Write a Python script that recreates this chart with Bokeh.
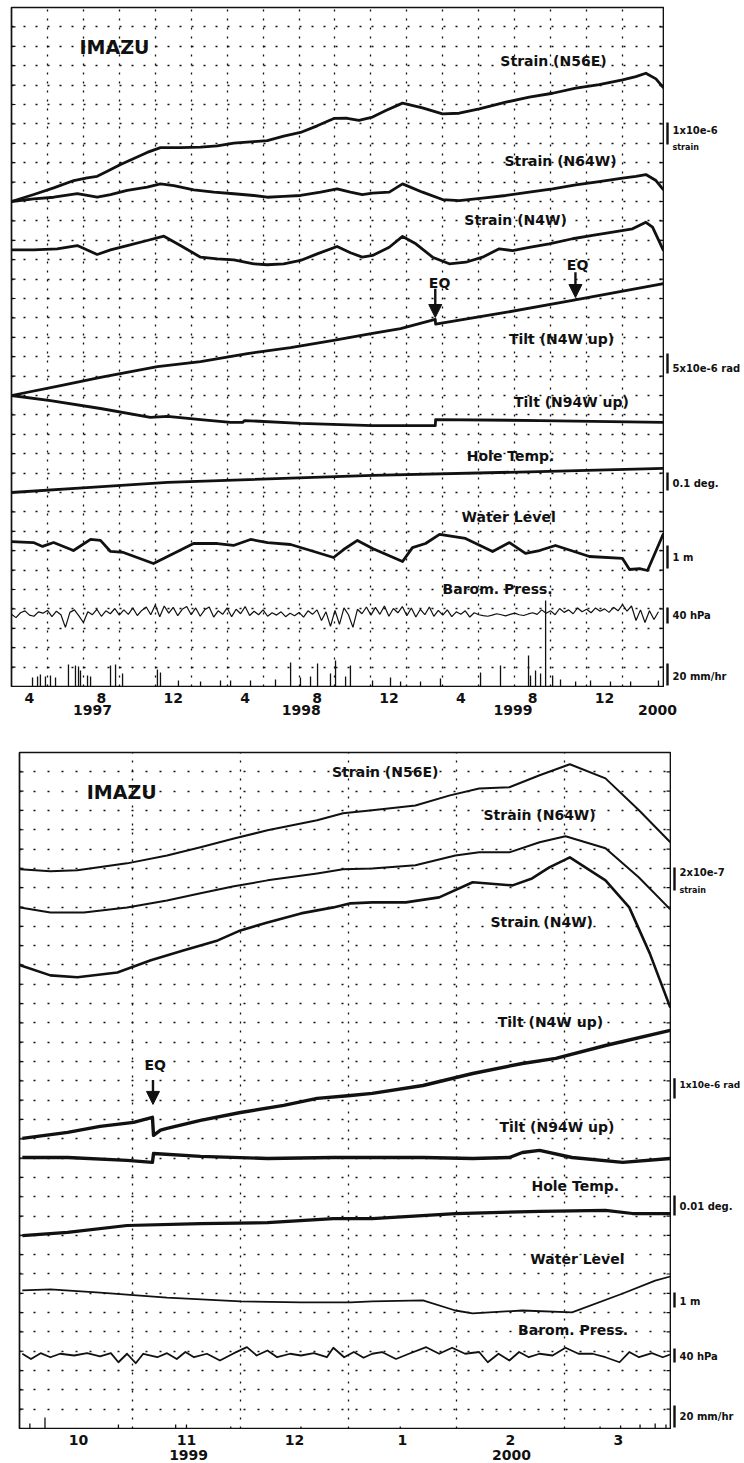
import math
from bokeh.plotting import figure
from bokeh.layouts import row
from bokeh.models import FixedTicker, LinearAxis, Arrow, NormalHead, Range1d, Grid
from bokeh.core.properties import value
from bokeh.embed import file_html
from bokeh.resources import INLINE

FONT = "DejaVu Sans"
INK = "#111111"

# ===================== DATA =====================
# Upper panel: x = months since 1997-01-01, y = chart divisions (35 over the full height)
up_n56e_t = [2.00, 3.24, 4.35, 5.47, 6.21, 6.77, 7.33, 8.07, 8.81, 9.55, 10.29, 11.40, 12.52, 13.45, 14.37, 15.48, 16.23, 17.15, 18.08, 19.01, 19.94, 20.68, 21.33, 22.09,
             22.83, 23.76, 24.87, 25.98, 26.91, 28.03, 29.51, 30.81, 32.11, 33.40, 34.70, 36.00, 36.74, 37.30, 37.86, 38.28]
up_n56e = [25.00, 25.36, 25.70, 26.08, 26.22, 26.30, 26.56, 26.91, 27.22, 27.53, 27.78, 27.78, 27.80, 27.87, 28.01, 28.09, 28.14, 28.37, 28.56, 28.90, 29.28, 29.29, 29.18, 29.35,
           29.69, 30.07, 29.83, 29.52, 29.55, 29.78, 30.12, 30.38, 30.58, 30.84, 31.03, 31.27, 31.44, 31.61, 31.32, 30.86]

up_n64w_t = [2.00, 3.24, 4.35, 5.66, 6.77, 7.51, 8.44, 9.55, 10.29, 11.03, 12.14, 13.26, 14.37, 15.48, 16.23, 17.15, 18.08, 19.20, 20.12, 20.86, 21.52, 22.09,
             23.02, 23.76, 24.87, 25.98, 26.91, 28.21, 29.51, 30.81, 32.11, 33.40, 34.70, 36.00, 36.74, 37.30, 37.86, 38.28]
up_n64w = [25.00, 25.14, 25.22, 25.40, 25.22, 25.36, 25.57, 25.74, 25.91, 25.82, 25.60, 25.48, 25.40, 25.31, 25.22, 25.26, 25.31, 25.48, 25.65, 25.48, 25.35, 25.43,
           25.48, 25.91, 25.48, 25.10, 25.05, 25.17, 25.31, 25.48, 25.65, 25.86, 26.03, 26.20, 26.29, 26.39, 26.08, 25.60]

up_n4w_t = [2.00, 3.24, 4.54, 5.66, 6.77, 7.51, 8.44, 9.55, 10.48, 11.40, 12.52, 13.45, 14.37, 15.48, 16.23, 17.15, 18.08, 19.01, 20.12, 20.86, 21.52, 22.09,
            23.02, 23.76, 24.50, 25.43, 26.36, 27.28, 28.21, 29.14, 29.88, 30.81, 31.92, 33.22, 34.33, 35.45, 36.56, 37.30, 37.67, 38.28]
up_n4w = [22.51, 22.51, 22.56, 22.73, 22.27, 22.51, 22.73, 22.99, 23.21, 22.73, 22.13, 22.04, 21.99, 21.79, 21.74, 21.79, 21.96, 22.30, 22.68, 22.36, 22.13, 22.22,
          22.64, 23.20, 22.82, 22.13, 21.79, 21.87, 22.13, 22.56, 22.47, 22.64, 22.82, 23.08, 23.25, 23.42, 23.59, 23.93, 23.68, 22.47]

up_tilt_n4w_t = [2.00, 4.73, 6.95, 10.12, 12.52, 15.13, 17.53, 19.92, 22.09, 23.65, 25.58, 25.60, 29.49, 33.22, 38.28]
up_tilt_n4w = [15.00, 15.51, 15.93, 16.49, 16.75, 17.16, 17.47, 17.84, 18.20, 18.45, 18.92, 18.68, 19.28, 19.90, 20.77]

up_tilt_n94w_t = [2.00, 4.17, 6.95, 9.73, 10.68, 12.52, 14.19, 14.86, 14.97, 18.08, 22.09, 25.58, 25.60, 31.38, 38.28]
up_tilt_n94w = [15.00, 14.74, 14.33, 13.87, 13.92, 13.76, 13.61, 13.61, 13.71, 13.56, 13.45, 13.45, 13.76, 13.71, 13.61]

up_temp_t = [2.00, 6.40, 10.68, 22.09, 31.38, 38.28]
up_temp = [10.00, 10.26, 10.52, 10.88, 11.08, 11.24]

up_water_t = [2.00, 3.22, 3.73, 4.34, 5.45, 6.40, 6.95, 7.51, 8.23, 9.90, 11.02, 12.13, 13.46, 14.35, 15.30, 16.25, 17.53, 18.64, 19.92, 20.48, 21.25, 22.09, 23.76, 24.31, 25.04, 25.82, 27.26, 28.77, 29.71, 30.60, 31.38, 32.27, 34.16, 36.00, 36.39, 36.95, 37.39, 38.28]
up_water = [7.47, 7.42, 7.22, 7.42, 7.01, 7.58, 7.53, 6.96, 6.91, 6.34, 6.86, 7.37, 7.37, 7.27, 7.58, 7.42, 7.32, 7.01, 6.65, 7.06, 7.53, 7.11, 6.44, 7.16, 7.37, 7.84, 7.63, 6.96, 7.42, 6.86, 7.01, 7.27, 6.70, 6.60, 6.03, 6.08, 5.98, 7.89]

# barometric pressure, read every quarter month starting at month 2.0
up_baro = [3.72, 3.55, 3.80, 3.90, 3.68, 3.62, 3.85, 3.78,
           3.92, 3.60, 3.88, 3.70, 3.05, 3.82, 3.95, 3.64,
           3.30, 3.85, 3.70, 3.98, 3.62, 3.90, 3.75, 4.02,
           3.68, 3.95, 3.72, 4.05, 3.66, 3.92, 4.10, 3.70,
           4.20, 3.60, 4.15, 3.78, 4.08, 3.65, 3.98, 4.12,
           3.70, 4.05, 3.62, 3.95, 4.10, 3.58, 3.90, 3.72,
           4.05, 3.60, 3.98, 3.75, 4.12, 3.66, 3.88, 3.70,
           3.95, 3.62, 3.80, 3.68, 3.85, 3.60, 3.78, 3.65,
           3.82, 3.58, 3.90, 3.72, 3.95, 3.40, 3.85, 3.10,
           3.92, 3.20, 4.05, 3.70, 3.05, 3.98, 3.75, 4.10,
           3.68, 4.08, 3.72, 4.15, 3.62, 4.02, 3.80, 4.12,
           3.65, 4.05, 3.58, 3.98, 3.70, 4.10, 3.62, 3.92,
           3.68, 3.95, 3.60, 3.85, 3.72, 3.90, 3.58, 3.80,
           3.70, 3.65, 3.62, 3.68, 3.75, 3.70, 3.64, 3.72,
           3.78, 3.70, 3.66, 3.74, 3.80, 3.72, 3.95, 3.78,
           3.90, 3.70, 4.02, 3.82, 3.95, 3.75, 4.05, 3.85,
           3.98, 3.80, 4.05, 3.88, 4.00, 3.82, 4.08, 3.90,
           4.22, 3.88, 4.15, 3.40, 3.95, 3.30, 3.90, 3.45,
           3.85]
up_baro_t = [2.0 + 0.25 * i for i in range(len(up_baro))]

up_rain_t = [3.17, 3.45, 3.61, 3.89, 4.17, 4.45, 5.17, 5.56, 5.73, 5.84, 6.23, 6.40, 7.51, 7.79, 8.18, 10.12, 10.29, 11.29, 12.52, 13.63, 14.19, 15.30, 16.69, 17.53, 18.08, 18.64, 19.03, 19.75, 20.03, 20.59, 20.86, 22.09, 23.09, 23.65, 24.76, 25.87, 28.10, 29.21, 30.77, 30.88, 31.16, 31.44, 31.72, 32.11, 32.55, 33.39, 34.22, 35.33, 36.45, 38.00]
up_rain = [0.46, 0.52, 0.62, 0.52, 0.57, 0.46, 1.13, 1.08, 1.03, 0.82, 0.57, 0.52, 1.08, 1.13, 0.67, 0.88, 0.72, 0.31, 0.26, 0.31, 0.31, 0.31, 0.36, 1.24, 0.46, 0.52, 1.19, 0.67, 1.34, 0.52, 1.08, 0.31, 0.46, 0.26, 0.26, 0.41, 0.72, 1.08, 1.60, 0.57, 0.82, 0.67, 4.43, 0.57, 0.36, 0.26, 0.31, 0.26, 0.26, 0.31]

up_month_ticks = [3, 7, 11, 15, 19, 23, 27, 31, 35]
up_month_names = ["4", "8", "12", "4", "8", "12", "4", "8", "12"]
up_year_ticks = [6.51, 18.12, 29.91, 37.95]
up_year_names = ["1997", "1998", "1999", "2000"]
up_grid_months = [4, 6, 8, 10, 12, 14, 16, 18, 20, 22, 24, 26, 28, 30, 32, 34, 36]

# Lower panel: x = months since 1999-10-01, y = chart divisions
lo_n56e_t = [-0.04, 0.24, 0.49, 0.95, 1.32, 1.63, 1.94, 2.25, 2.71, 2.95, 3.22, 3.62, 3.94, 4.21, 4.49, 4.77, 5.05, 5.38, 5.69, 5.98]
lo_n56e = [28.95, 28.85, 28.90, 29.26, 29.67, 30.09, 30.55, 30.97, 31.49, 31.85, 32.01, 32.26, 32.78, 33.14, 33.20, 33.82, 34.39, 33.66, 32.01, 30.35]

lo_n64w_t = [-0.04, 0.24, 0.55, 0.95, 1.32, 1.63, 1.94, 2.25, 2.71, 2.95, 3.22, 3.62, 3.99, 4.21, 4.49, 4.77, 5.01, 5.38, 5.69, 5.98]
lo_n64w = [26.98, 26.72, 26.72, 26.98, 27.34, 27.71, 28.07, 28.38, 28.74, 28.95, 29.00, 29.16, 29.67, 29.83, 29.83, 30.35, 30.66, 30.04, 28.53, 26.88]

lo_n4w_t = [-0.04, 0.24, 0.49, 0.86, 1.17, 1.47, 1.79, 2.00, 2.25, 2.56, 2.86, 3.02, 3.22, 3.53, 3.84, 4.15, 4.52, 4.70, 4.86, 5.05, 5.38, 5.60, 5.79, 5.98]
lo_n4w = [23.98, 23.46, 23.36, 23.61, 24.24, 24.75, 25.27, 25.79, 26.20, 26.67, 26.98, 27.19, 27.24, 27.24, 27.50, 28.28, 28.12, 28.48, 29.05, 29.57, 28.38, 26.98, 24.60, 21.80]

lo_tilt_n4w_t = [-0.02, 0.40, 0.70, 1.01, 1.185, 1.195, 1.26, 1.32, 1.63, 2.00, 2.40, 2.71, 3.02, 3.22, 3.69, 4.15, 4.61, 4.92, 5.38, 5.98]
lo_tilt_n4w = [15.02, 15.33, 15.64, 15.85, 16.11, 15.18, 15.45, 15.54, 15.95, 16.36, 16.73, 17.09, 17.24, 17.35, 17.76, 18.38, 18.90, 19.16, 19.83, 20.61]

lo_tilt_n94w_t = [-0.02, 0.40, 0.95, 1.185, 1.195, 1.63, 2.25, 2.86, 3.22, 3.69, 4.15, 4.49, 4.61, 4.77, 5.07, 5.54, 5.98]
lo_tilt_n94w = [14.03, 14.03, 13.88, 13.78, 14.24, 14.09, 13.98, 14.03, 14.03, 14.03, 13.98, 14.03, 14.29, 14.40, 14.03, 13.78, 13.98]

lo_temp_t = [-0.02, 0.40, 0.95, 1.63, 2.25, 2.86, 3.22, 3.99, 4.77, 5.38, 5.63, 5.98]
lo_temp = [9.99, 10.15, 10.51, 10.61, 10.66, 10.87, 10.87, 11.13, 11.24, 11.29, 11.13, 11.13]

lo_water_t = [-0.02, 0.24, 0.70, 1.32, 2.00, 2.56, 3.02, 3.22, 3.69, 3.99, 4.15, 4.61, 5.07, 5.54, 5.84, 5.98]
lo_water = [7.15, 7.20, 7.04, 6.78, 6.58, 6.53, 6.53, 6.58, 6.63, 6.11, 5.96, 6.11, 6.01, 6.99, 7.66, 7.87]

lo_baro_t = [-0.02, 0.06, 0.15, 0.24, 0.33, 0.46, 0.58, 0.70, 0.80, 0.87, 0.95, 1.03, 1.10, 1.23, 1.32, 1.41, 1.49, 1.57, 1.69, 1.81, 1.94, 2.06, 2.15, 2.25, 2.34, 2.46, 2.56, 2.68, 2.80, 2.86, 2.96, 3.05, 3.14,
             3.22, 3.31, 3.44, 3.56, 3.72, 3.84, 3.96, 4.08, 4.21, 4.29, 4.39, 4.49, 4.58, 4.67, 4.77, 4.89, 5.01, 5.13, 5.26, 5.38, 5.51, 5.60, 5.69, 5.81, 5.91, 5.98]
lo_baro = [3.87, 3.60, 3.90, 3.69, 3.87, 3.78, 3.90, 3.73, 3.90, 3.43, 3.87, 3.38, 3.87, 3.69, 3.90, 3.60, 3.96, 3.69, 3.87, 3.52, 3.90, 4.21, 3.78, 4.04, 3.69, 3.87, 3.78, 3.90, 3.69, 4.18, 3.69, 3.96, 3.66,
           3.87, 3.96, 3.60, 3.87, 4.21, 3.87, 4.18, 3.87, 3.96, 3.43, 3.87, 3.52, 3.96, 3.69, 3.87, 3.78, 4.18, 3.87, 3.87, 3.69, 3.43, 3.96, 3.69, 3.90, 3.69, 3.83]

lo_rain_t = [0.05, 0.19, 0.87, 1.40, 1.50, 1.91, 2.56, 3.48, 5.33, 5.52, 5.70, 5.84, 5.94]
lo_rain = [0.26, 0.57, 0.21, 0.21, 0.21, 0.10, 0.10, 0.10, 0.10, 0.16, 0.21, 0.26, 0.21]

lo_month_ticks = [0.5, 1.5, 2.5, 3.5, 4.5, 5.5]
lo_month_names = ["10", "11", "12", "1", "2", "3"]
lo_year_ticks = [1.52, 4.51]
lo_year_names = ["1999", "2000"]
lo_grid_months = [1, 2, 3, 4, 5]

series_names = ["Strain (N56E)", "Strain (N64W)", "Strain (N4W)", "Tilt (N4W up)",
                "Tilt (N94W up)", "Hole Temp.", "Water Level", "Barom. Press."]
up_scale_names = ["1x10e-6", "strain", "5x10e-6 rad", "0.1 deg.", "1 m", "40 hPa", "20 mm/hr"]
lo_scale_names = ["2x10e-7", "strain", "1x10e-6 rad", "0.01 deg.", "1 m", "40 hPa", "20 mm/hr"]

# ===================== LAYOUT (positions, sizes) =====================
up_label_x = [32.16, 32.55, 30.05, 32.61, 33.16, 29.77, 29.66, 29.05]
up_label_y = [32.22, 27.11, 24.07, 17.89, 14.69, 11.86, 8.76, 5.05]
lo_label_x = [3.34, 4.77, 4.79, 4.87, 4.93, 5.10, 5.12, 5.08]
lo_label_y = [33.97, 31.75, 26.20, 21.03, 15.59, 12.58, 8.80, 5.08]

up_scale_y = [28.66, 27.78, 16.39, 10.46, 6.65, 3.66, 0.52]
up_scale_size = ["10px", "8px", "10px", "10px", "10px", "10px", "10px"]
up_bar_y0 = [29.07, 17.16, 11.03, 7.27, 4.07, 1.19]
up_bar_y1 = [27.94, 16.13, 10.10, 6.08, 3.25, 0.05]
lo_scale_y = [28.79, 27.86, 17.76, 11.50, 6.58, 3.73, 0.62]
lo_scale_size = ["10px", "8px", "9px", "10px", "10px", "10px", "10px"]
lo_bar_y0 = [29.05, 18.13, 12.07, 7.04, 4.14, 1.19]
lo_bar_y1 = [27.86, 17.09, 11.03, 6.27, 3.42, 0.05]

ROWS = list(range(1, 35))


def clear_grids(p):
    p.center = [r for r in p.center if not isinstance(r, Grid)]


def build_panel(xr, width, height, left, top, grid_months, row_dash, col_dash):
    p = figure(width=width, height=height, x_range=Range1d(*xr), y_range=Range1d(0, 35),
               x_axis_location=None, y_axis_location=None,
               output_backend="svg", toolbar_location=None,
               min_border_left=left, min_border_right=1, min_border_top=top, min_border_bottom=1,
               background_fill_color="white", border_fill_color="white",
               outline_line_color=INK, outline_line_width=1.7)
    clear_grids(p)
    p.add_layout(Grid(dimension=0, ticker=FixedTicker(ticks=grid_months), grid_line_color=INK,
                      grid_line_dash=col_dash, grid_line_width=1.3))
    p.add_layout(Grid(dimension=1, ticker=FixedTicker(ticks=ROWS), grid_line_color=INK,
                      grid_line_dash=row_dash, grid_line_width=1.4))
    # small inward ticks on the left and right borders at every row
    p.ray(x=[xr[0]] * len(ROWS), y=ROWS, length=4, length_units="screen", angle=0,
          line_color=INK, line_width=1.2)
    p.ray(x=[xr[1]] * len(ROWS), y=ROWS, length=4, length_units="screen", angle=math.pi,
          line_color=INK, line_width=1.2)
    return p


def build_side(x0, width, height, top, y_range, names, ys, sizes, xs_text, bar_x, bar_y0, bar_y1):
    s = figure(width=width, height=height, x_range=Range1d(x0, x0 + width), y_range=y_range,
               x_axis_location=None, y_axis_location=None,
               output_backend="svg", toolbar_location=None,
               min_border_left=0, min_border_right=0, min_border_top=top, min_border_bottom=1,
               background_fill_color="white", border_fill_color="white", outline_line_color=None)
    clear_grids(s)
    s.text(x=[xs_text] * len(names), y=ys, text=names, text_font=value(FONT),
           text_font_style="bold", text_font_size=sizes,
           text_align="left", text_baseline="middle", text_color=INK)
    s.segment(x0=[bar_x] * len(bar_y0), y0=bar_y0, x1=[bar_x] * len(bar_y0), y1=bar_y1,
              line_color=INK, line_width=2.4)
    return s


def build_strip(x_range, width, height, left, right, month_ticks, month_names, month_standoff,
                year_ticks, year_names, year_standoff):
    st = figure(width=width, height=height, x_range=x_range, y_range=Range1d(0, 1),
                y_axis_location=None, output_backend="svg", toolbar_location=None,
                min_border_left=left, min_border_right=right, min_border_top=0,
                min_border_bottom=height - 1,
                background_fill_color="white", border_fill_color="white", outline_line_color=None)
    clear_grids(st)
    xa = st.xaxis[0]
    xa.ticker = FixedTicker(ticks=month_ticks)
    xa.major_label_overrides = {t: s for t, s in zip(month_ticks, month_names)}
    xa.major_tick_line_color = None
    xa.minor_tick_line_color = None
    xa.axis_line_color = None
    xa.major_label_text_font = FONT
    xa.major_label_text_font_style = "bold"
    xa.major_label_text_font_size = "14px"
    xa.major_label_text_color = INK
    xa.major_label_standoff = month_standoff
    ya = LinearAxis(ticker=FixedTicker(ticks=year_ticks),
                    major_label_overrides={t: s for t, s in zip(year_ticks, year_names)},
                    axis_line_color=None, major_tick_line_color=None, minor_tick_line_color=None,
                    major_label_text_font=FONT, major_label_text_font_style="bold",
                    major_label_text_font_size="14px", major_label_text_color=INK,
                    major_label_standoff=year_standoff)
    st.add_layout(ya, "below")
    return st


def add_texts(p, xs, ys, texts, size):
    p.text(x=xs, y=ys, text=texts, text_font=value(FONT), text_font_style="bold",
           text_font_size=size, text_align="center", text_baseline="middle", text_color=INK)


def add_eq(p, x_text, y_text, x_arrow, y0, y1):
    add_texts(p, [x_text], [y_text], ["EQ"], "14px")
    p.add_layout(Arrow(end=NormalHead(size=13, fill_color=INK, line_color=INK, line_width=1),
                       x_start=x_arrow, y_start=y0, x_end=x_arrow, y_end=y1,
                       line_width=2.4, line_color=INK))


# ---------------- upper panel ----------------
p1 = build_panel((2.0, 38.28), 664, 687, 11, 7, up_grid_months, "2 10", "2 7")
for t, v in [(up_n56e_t, up_n56e), (up_n64w_t, up_n64w), (up_n4w_t, up_n4w),
             (up_tilt_n4w_t, up_tilt_n4w), (up_tilt_n94w_t, up_tilt_n94w),
             (up_temp_t, up_temp), (up_water_t, up_water)]:
    p1.line(t, v, line_color=INK, line_width=2.8, line_join="round")
p1.line(up_baro_t, up_baro, line_color=INK, line_width=1.2)
p1.segment(x0=up_rain_t, y0=[0] * len(up_rain), x1=up_rain_t, y1=up_rain, line_color=INK, line_width=1.3)
add_texts(p1, [7.73], [32.94], ["IMAZU"], "19px")
add_texts(p1, up_label_x, up_label_y, series_names, "14px")
add_eq(p1, 25.82, 20.82, 25.58, 20.50, 19.02)
add_eq(p1, 33.50, 21.75, 33.38, 21.35, 20.05)
s1 = build_side(664, 80, 687, 7, p1.y_range, up_scale_names, up_scale_y, up_scale_size,
                672, 667, up_bar_y0, up_bar_y1)
strip1 = build_strip(p1.x_range, 744, 37, 11, 81, up_month_ticks, up_month_names, -2,
                     up_year_ticks, up_year_names, -7)

# ---------------- lower panel ----------------
p2 = build_panel((-0.046, 5.982), 671, 705, 19, 28, lo_grid_months, "2 12", "2 7")
for t, v, w in [(lo_n56e_t, lo_n56e, 2.0), (lo_n64w_t, lo_n64w, 2.0), (lo_n4w_t, lo_n4w, 2.6),
                (lo_tilt_n4w_t, lo_tilt_n4w, 3.4), (lo_tilt_n94w_t, lo_tilt_n94w, 3.4),
                (lo_temp_t, lo_temp, 3.2), (lo_water_t, lo_water, 1.8), (lo_baro_t, lo_baro, 1.8)]:
    p2.line(t, v, line_color=INK, line_width=w, line_join="round")
p2.segment(x0=lo_rain_t, y0=[0] * len(lo_rain), x1=lo_rain_t, y1=lo_rain, line_color=INK, line_width=1.3)
add_texts(p2, [0.90], [32.94], ["IMAZU"], "19px")
add_texts(p2, lo_label_x, lo_label_y, series_names, "14px")
add_eq(p2, 1.21, 18.80, 1.19, 18.05, 16.78)
s2 = build_side(671, 73, 705, 28, p2.y_range, lo_scale_names, lo_scale_y, lo_scale_size,
                679, 674, lo_bar_y0, lo_bar_y1)
strip2 = build_strip(p2.x_range, 744, 34, 19, 74, lo_month_ticks, lo_month_names, -2,
                     lo_year_ticks, lo_year_names, -4)

roots = [row(p1, s1, spacing=0), strip1, row(p2, s2, spacing=0), strip2]
open("out.html", "w").write(file_html(roots, INLINE))
